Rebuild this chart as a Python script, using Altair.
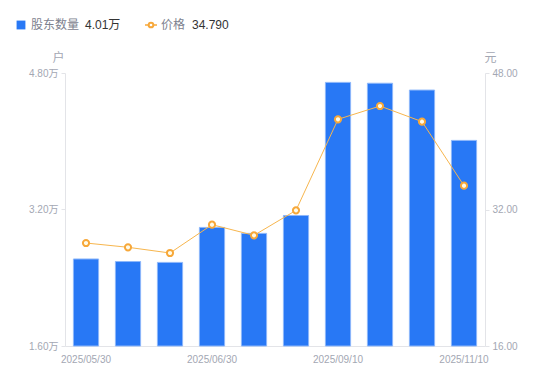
import altair as alt
import pandas as pd

# ---- data ----
dates = ["2025/05/30", "2025/06/10", "2025/06/20", "2025/06/30", "2025/07/31",
         "2025/08/31", "2025/09/10", "2025/09/30", "2025/10/31", "2025/11/10"]
holders = [2.62, 2.59, 2.58, 2.99, 2.92, 3.13, 4.69, 4.68, 4.60, 4.01]   # 万户
price = [28.07, 27.57, 26.90, 30.22, 28.97, 31.90, 42.57, 44.13, 42.30, 34.79]  # 元
shown_dates = ["2025/05/30", "2025/06/30", "2025/09/10", "2025/11/10"]
left_ticks = [1.6, 3.2, 4.8]
right_ticks = [16, 32, 48]
series_names = ["股东数量", "价格"]

df = pd.DataFrame({"date": dates, "holders": holders, "price": price})

FONT = "Liberation Sans, Arial, Noto Sans CJK SC"
LABEL_C = "#a3a7b3"
AXIS_C = "#e3e4e8"
BLUE = "#2878f5"
ORANGE = "#f7a83a"

x_enc = alt.X(
    "date:N", sort=dates,
    scale=alt.Scale(paddingInner=0.4, paddingOuter=0.2),
    axis=alt.Axis(values=shown_dates, labelAngle=0, title=None, ticks=False,
                  domainColor=AXIS_C, labelColor=LABEL_C, labelFontSize=10,
                  labelFont=FONT, labelPadding=8),
)

bars = alt.Chart(df).mark_bar(color=BLUE, stroke="#8db7fa", strokeWidth=1).encode(
    x=x_enc,
    y=alt.Y("holders:Q",
            scale=alt.Scale(domain=[1.6, 4.8], nice=False, zero=False),
            axis=alt.Axis(values=left_ticks,
                          labelExpr="format(datum.value, '.2f') + '万'",
                          title="户", titleAngle=0, titleX=-7, titleY=-16,
                          titleAlign="center", titleBaseline="middle",
                          titleColor=LABEL_C, titleFontSize=12, titleFontWeight="normal",
                          titleFont=FONT,
                          grid=False, tickSize=4, tickColor=AXIS_C, domainColor=AXIS_C,
                          labelColor=LABEL_C, labelFontSize=10, labelFont=FONT,
                          labelPadding=3)),
    y2=alt.datum(1.6),
)

pbase = alt.Chart(df).encode(
    x=x_enc,
    y=alt.Y("price:Q",
            scale=alt.Scale(domain=[16, 48], nice=False, zero=False),
            axis=alt.Axis(orient="right", values=right_ticks, format=".2f",
                          title="元", titleAngle=0, titleX=5, titleY=-16,
                          titleAlign="center", titleBaseline="middle",
                          titleColor=LABEL_C, titleFontSize=12, titleFontWeight="normal",
                          titleFont=FONT,
                          grid=False, tickSize=4, tickColor=AXIS_C, domainColor=AXIS_C,
                          labelColor=LABEL_C, labelFontSize=10, labelFont=FONT,
                          labelPadding=3)),
)
pline = pbase.mark_line(color="#f7b64e", strokeWidth=1)
ppts = pbase.mark_point(filled=True, fill="#fffbe8", stroke=ORANGE, strokeWidth=2,
                        size=38, opacity=1)
price_layer = alt.layer(pline, ppts)

# ---- legend (top-left) ----
LY = -48
one = pd.DataFrame({"k": [0]})
leg_sq = alt.Chart(one).mark_square(color=BLUE, size=78, opacity=1).encode(
    x=alt.value(-44), y=alt.value(LY))
leg_rule = alt.Chart(one).mark_rule(color=ORANGE, strokeWidth=1.5).encode(
    x=alt.value(80), x2=alt.value(92), y=alt.value(LY))
leg_pt = alt.Chart(one).mark_point(filled=True, fill="white", stroke=ORANGE,
                                   strokeWidth=2, size=22, opacity=1).encode(
    x=alt.value(86), y=alt.value(LY))


def leg_text(txt, x, color):
    return alt.Chart(pd.DataFrame({"t": [txt]})).mark_text(
        align="left", baseline="middle", fontSize=12, font=FONT, color=color
    ).encode(x=alt.value(x), y=alt.value(LY), text="t:N")


legend = alt.layer(
    leg_sq,
    leg_text(series_names[0], -34, "#7d818e"),
    leg_text(f"{holders[-1]:.2f}万", 20, "#333333"),
    leg_rule, leg_pt,
    leg_text(series_names[1], 96, "#7d818e"),
    leg_text(f"{price[-1]:.3f}", 127, "#333333"),
)

chart = alt.layer(bars, price_layer, legend).resolve_scale(y="independent").properties(
    width=420, height=273,
    autosize=alt.AutoSizeParams(type="none"),
    padding={"left": 57, "top": 65, "right": 57, "bottom": 27},
).configure_view(stroke=None)

chart.save("out.html", embed_options={"renderer": "svg", "actions": False})
